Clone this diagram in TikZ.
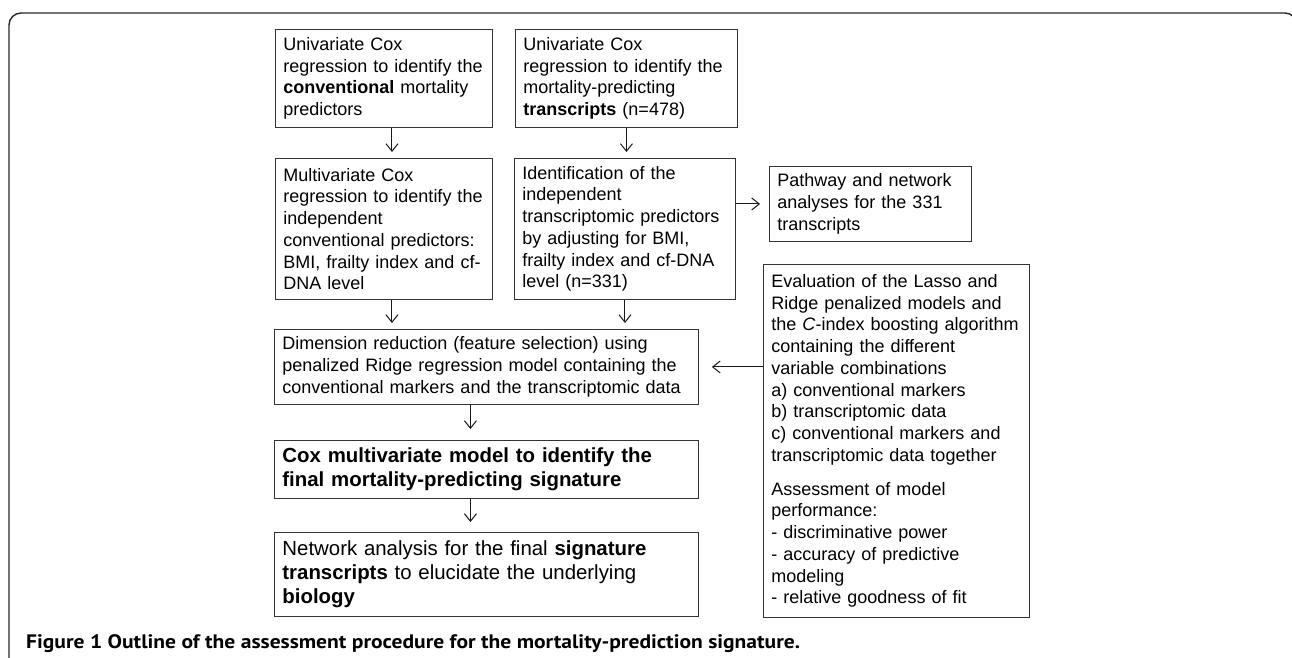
\documentclass[tikz,border=0pt]{standalone}
\usepackage{fontspec}
\setmainfont{Liberation Sans}
\newfontfamily\capfont{PT Sans}[FakeStretch=1.105]
\usetikzlibrary{arrows.meta,calc}
\begin{document}
\begin{tikzpicture}[x=1pt,y=-1pt,
  box/.style={draw=black!80, line width=0.9pt, anchor=north west, inner xsep=8pt, inner ysep=0pt,
    align=left, font=\fontsize{18}{21.75}\selectfont},
  bigbox/.style={box, font=\fontsize{20.4}{24.2}\selectfont},
  arr/.style={draw=black!90, line width=1pt, -{Straight Barb[length=7.5pt,width=12pt,line width=1pt]}},
  frame/.style={draw=black!85, line width=1.4pt, rounded corners=12pt}]
\useasboundingbox (0,0) rectangle (1292,657);
% outer frame
\draw[frame] (9,700) -- (9,13) -- (1297,13) -- (1297,700);
% boxes
\node[box, text width=201pt, minimum height=98pt] (a) at (275,29)
  {Univariate Cox\\regression to identify the\\\textbf{conventional} mortality\\predictors};
\node[box, text width=206pt, minimum height=98pt] (b) at (515,29)
  {Univariate Cox\\regression to identify the\\mortality-predicting\\\textbf{transcripts} (n=478)};
\node[box, text width=201pt, minimum height=141pt] (c) at (275,158)
  {Multivariate Cox\\regression to identify the\\independent\\conventional predictors:\\BMI, frailty index and cf-\\DNA level};
\node[box, text width=205pt, minimum height=141pt] (d) at (514,158)
  {Identification of the\\independent\\transcriptomic predictors\\by adjusting for BMI,\\frailty index and cf-DNA\\level (n=331)};
\node[box, text width=186pt, minimum height=75pt] (e) at (769,166)
  {Pathway and network\\analyses for the 331\\transcripts};
\node[box, text width=408pt, minimum height=75pt] (f) at (274,329)
  {Dimension reduction (feature selection) using\\penalized Ridge regression model containing the\\conventional markers and the transcriptomic data};
\node[bigbox, text width=408pt, minimum height=58pt] (g) at (274,440)
  {\textbf{Cox multivariate model to identify the}\\\textbf{final mortality-predicting signature}};
\node[bigbox, text width=408pt, minimum height=84pt] (h) at (274,532)
  {Network analysis for the final \textbf{signature}\\\textbf{transcripts} to elucidate the underlying\\\textbf{biology}};
\node[box, text width=250pt, minimum height=353pt] (i) at (763,264)
  {Evaluation of the Lasso and\\Ridge penalized models and\\the \textit{C}-index boosting algorithm\\containing the different\\variable combinations\\a) conventional markers\\b) transcriptomic data\\c) conventional markers and\\transcriptomic data together\\[12pt]Assessment of model\\performance:\\- discriminative power\\- accuracy of predictive\\modeling\\- relative goodness of fit};
% connectors
\draw[arr, shorten >=6pt] ([xshift=8pt]a.south) -- ([xshift=8pt]a.south |- c.north);
\draw[arr, shorten >=6pt] (b.south) -- (b.south |- d.north);
\draw[arr, shorten >=6pt] ([xshift=8pt]c.south) -- ([xshift=8pt]c.south |- f.north);
\draw[arr, shorten >=6pt] (d.south) -- (d.south |- f.north);
\draw[arr, shorten >=9pt] (d.east |- e.west) -- (e.west);
\draw[arr, shorten >=13pt] (i.west |- f.east) -- (f.east);
\draw[arr, shorten >=11pt] ([xshift=-16pt]f.south) -- ([xshift=-16pt]f.south |- g.north);
\draw[arr, shorten >=10pt] ([xshift=-16pt]g.south) -- ([xshift=-16pt]g.south |- h.north);
% caption
\node[anchor=base west, inner sep=0pt, font=\capfont\bfseries\fontsize{19.5}{22}\selectfont] (cap) at (26,648)
  {Figure 1 Outline of the assessment procedure for the mortality-prediction signature.};
\end{tikzpicture}
\end{document}
